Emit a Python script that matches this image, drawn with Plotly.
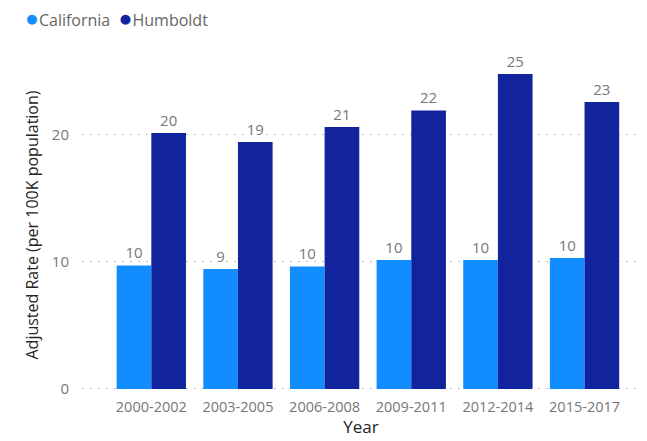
import plotly.graph_objects as go

# Age-adjusted rate per 100K population, 3-year periods
periods = ["2000-2002", "2003-2005", "2006-2008", "2009-2011", "2012-2014", "2015-2017"]
california = [9.73, 9.45, 9.65, 10.15, 10.15, 10.31]
humboldt = [20.15, 19.45, 20.62, 21.93, 24.8, 22.6]
series_names = ["California", "Humboldt"]
y_ticks = [0, 10, 20]

ca_color = "#118DFF"
hu_color = "#12239E"
font_family = "Open Sans, Noto Sans, sans-serif"
label_color = "#777777"
title_color = "#252423"

fig = go.Figure()

for name, vals, color in [(series_names[0], california, ca_color), (series_names[1], humboldt, hu_color)]:
    fig.add_trace(go.Bar(
        x=periods, y=vals, name=name,
        marker=dict(color=color, line=dict(width=0)),
        texttemplate="%{y:.0f}", textposition="outside",
        textfont=dict(family=font_family, size=15, color=label_color),
        cliponaxis=False, showlegend=False,
    ))

# compact legend row: coloured dot immediately followed by the series name
legend_html = (
    f"<span style='color:{ca_color};font-size:23px'>●</span>{series_names[0]}&nbsp;&nbsp;"
    f"<span style='color:{hu_color};font-size:23px'>●</span>{series_names[1]}"
)
fig.add_annotation(
    text=legend_html, xref="paper", yref="paper",
    x=-0.106, y=1.13, xanchor="left", yanchor="middle",
    showarrow=False, font=dict(family=font_family, size=16, color="#666666"),
)

fig.update_layout(
    width=647, height=441,
    margin=dict(l=82, r=7, t=60, b=51),
    paper_bgcolor="white", plot_bgcolor="white",
    barmode="group", bargap=0.2, bargroupgap=0,
    font=dict(family=font_family, color=label_color),
    showlegend=False,
    xaxis=dict(
        range=[-0.8, 5.64], showgrid=False, showline=False, ticks="",
        tickfont=dict(size=14.5, color=label_color), ticklabelstandoff=6,
        title=dict(text="Year", font=dict(size=17, color=title_color), standoff=4),
    ),
    yaxis=dict(
        range=[-0.08, 25.9], tickvals=y_ticks, showline=False, zeroline=False,
        showgrid=True, gridcolor="#BDBDBD", griddash="2px,6px", gridwidth=1.3,
        tickfont=dict(size=15, color=label_color), ticks="", ticklabelstandoff=12,
        title=dict(text="Adjusted Rate (per 100K population)", font=dict(size=16, color=title_color), standoff=9),
    ),
)

fig.write_html("out.html")
